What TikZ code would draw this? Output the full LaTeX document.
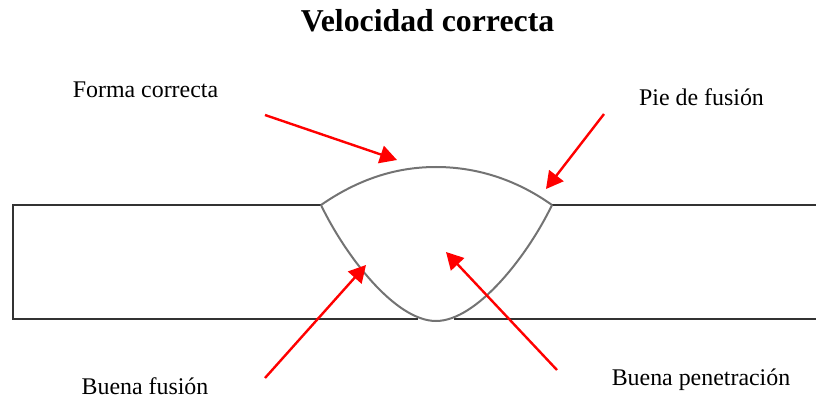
\documentclass[tikz,border=0pt]{standalone}
\usepackage{fontspec}
\setmainfont{Liberation Serif}
\usetikzlibrary{arrows.meta}
\tikzset{
 lbl/.style={inner sep=0pt,font=\fontsize{23.9pt}{26pt}\selectfont,text=black},
 ttl/.style={inner sep=0pt,font=\bfseries\fontsize{31.8pt}{34pt}\selectfont,text=black},
 plate/.style={draw=black!80,line width=2pt},
 weld/.style={draw=black!55,line width=2pt},
 redarrow/.style={draw=red,line width=2.4pt,-{Triangle[length=17pt,width=18pt]}}
}
\begin{document}
\begin{tikzpicture}[x=1pt,y=-1pt]
\useasboundingbox (0,0) rectangle (816,398);
\coordinate (tl) at (321,205);
\coordinate (tr) at (552,205);
\coordinate (bc) at (436,321);
\coordinate (top) at (436,167);
\draw[plate] (tl) -- (12.5,205) -- (12.5,318.5) -- (418,318.5);
\draw[plate] (454,318.5) -- (816,318.5);
\draw[plate] (tr) -- (816,205);
\draw[weld] (tl) .. controls (360,178) and (398,167) .. (top) .. controls (474,167) and (514,178) .. (tr);
\draw[weld] (tl) .. controls (345,255) and (395,321) .. (bc) .. controls (477,321) and (528,255) .. (tr);
\node[ttl] (title) at (427.5,21) {Velocidad correcta};
\node[lbl] (forma) at (145.5,89.5) {Forma correcta};
\node[lbl] (pie) at (701.5,97) {Pie de fusión};
\node[lbl] (fusion) at (145,386) {Buena fusión};
\node[lbl] (pen) at (701,380) {Buena penetración};
\coordinate (a1s) at (265,115); \coordinate (a1e) at (397,160);
\coordinate (a2s) at (604,114); \coordinate (a2e) at (546,189);
\coordinate (a3s) at (265,378); \coordinate (a3e) at (366,265);
\coordinate (a4s) at (557,370); \coordinate (a4e) at (446,252);
\draw[redarrow] (a1s) -- (a1e);
\draw[redarrow] (a2s) -- (a2e);
\draw[redarrow] (a3s) -- (a3e);
\draw[redarrow] (a4s) -- (a4e);
\end{tikzpicture}
\end{document}
